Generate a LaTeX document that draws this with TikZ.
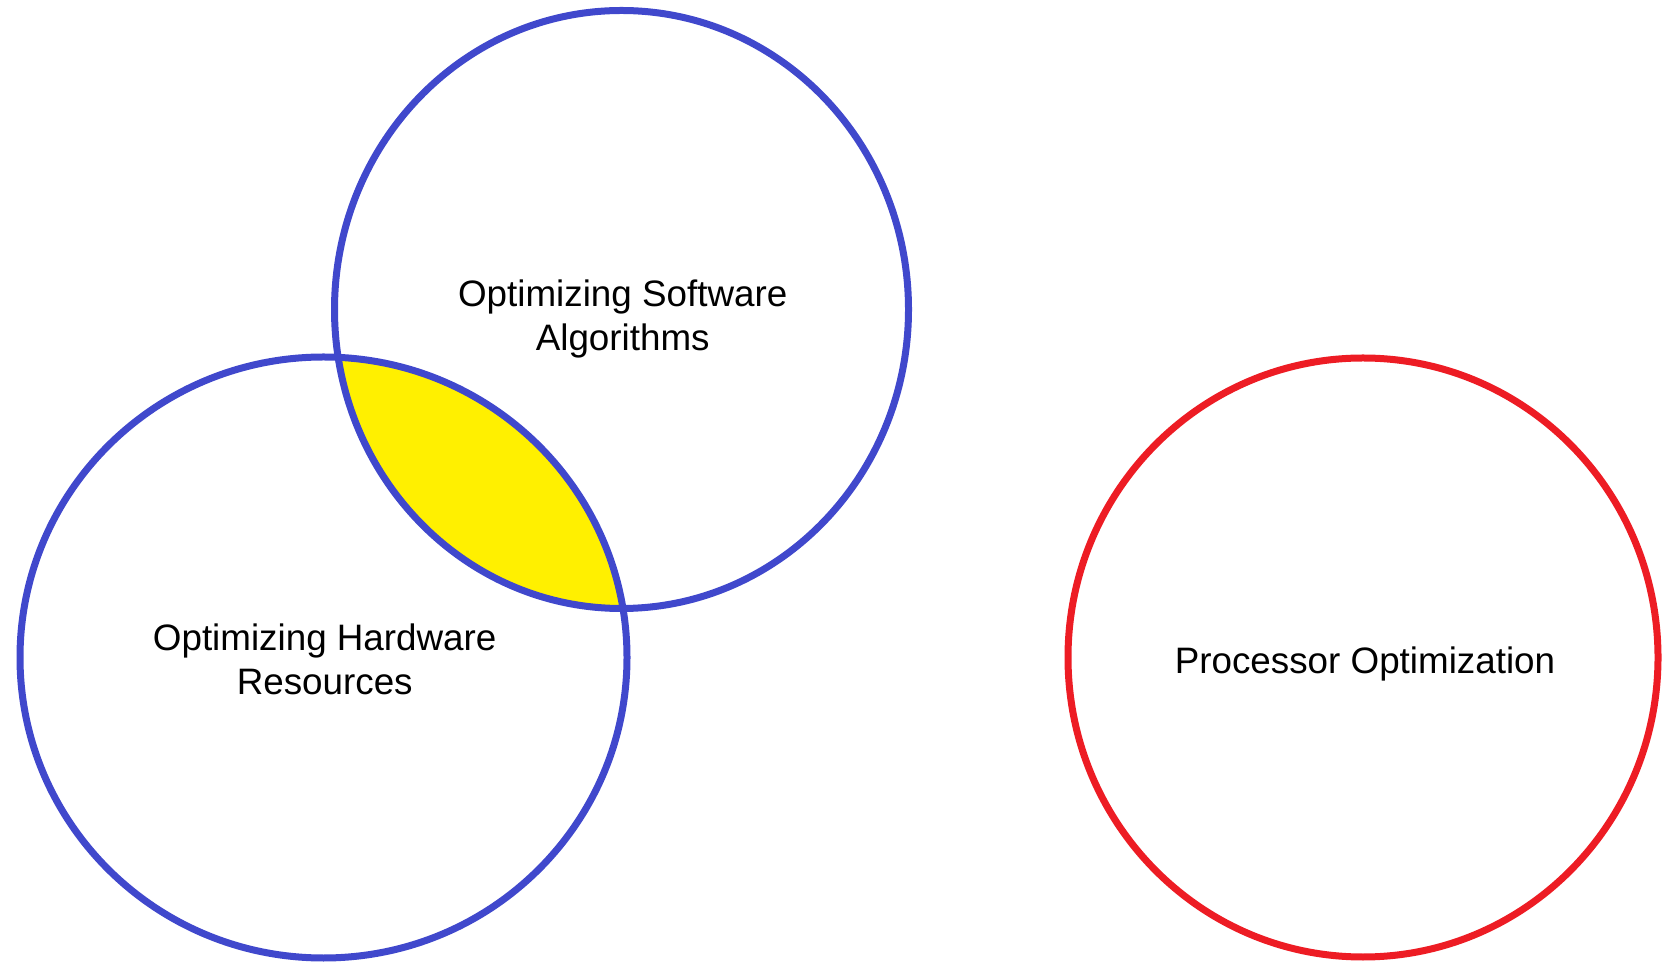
\documentclass[tikz,border=0pt]{standalone}
\usepackage{fontspec}
\setmainfont{Liberation Sans}
\definecolor{ringblue}{RGB}{64,72,204}
\definecolor{ringred}{RGB}{237,28,36}
\definecolor{lensyellow}{RGB}{255,240,0}
\tikzset{
  ring/.style={line width=7pt},
  label/.style={align=center, font=\fontsize{36.8}{43.5}\selectfont, text=black, inner sep=0pt},
}
\begin{document}
\begin{tikzpicture}[x=1pt,y=1pt]
\useasboundingbox (0,0) rectangle (1672,961);
% overlap of the two blue sets
\begin{scope}
  \clip (323.5,303.5) ellipse [x radius=303.5, y radius=300.5];
  \fill[lensyellow] (621.5,651.5) ellipse [x radius=287, y radius=299];
\end{scope}
% outlines
\draw[ring, ringblue] (621.5,651.5) ellipse [x radius=287, y radius=299];
\draw[ring, ringblue] (323.5,303.5) ellipse [x radius=303.5, y radius=300.5];
\draw[ring, ringred] (1363,303.5) ellipse [x radius=295, y radius=299.5];
% set labels
\node[label] (soft) at (622.7,642.2) {Optimizing Software\\Algorithms};
\node[label] (hard) at (324.7,301.6) {Optimizing Hardware\\Resources};
\node[label] (proc) at (1365,297) {Processor Optimization};
\end{tikzpicture}
\end{document}
